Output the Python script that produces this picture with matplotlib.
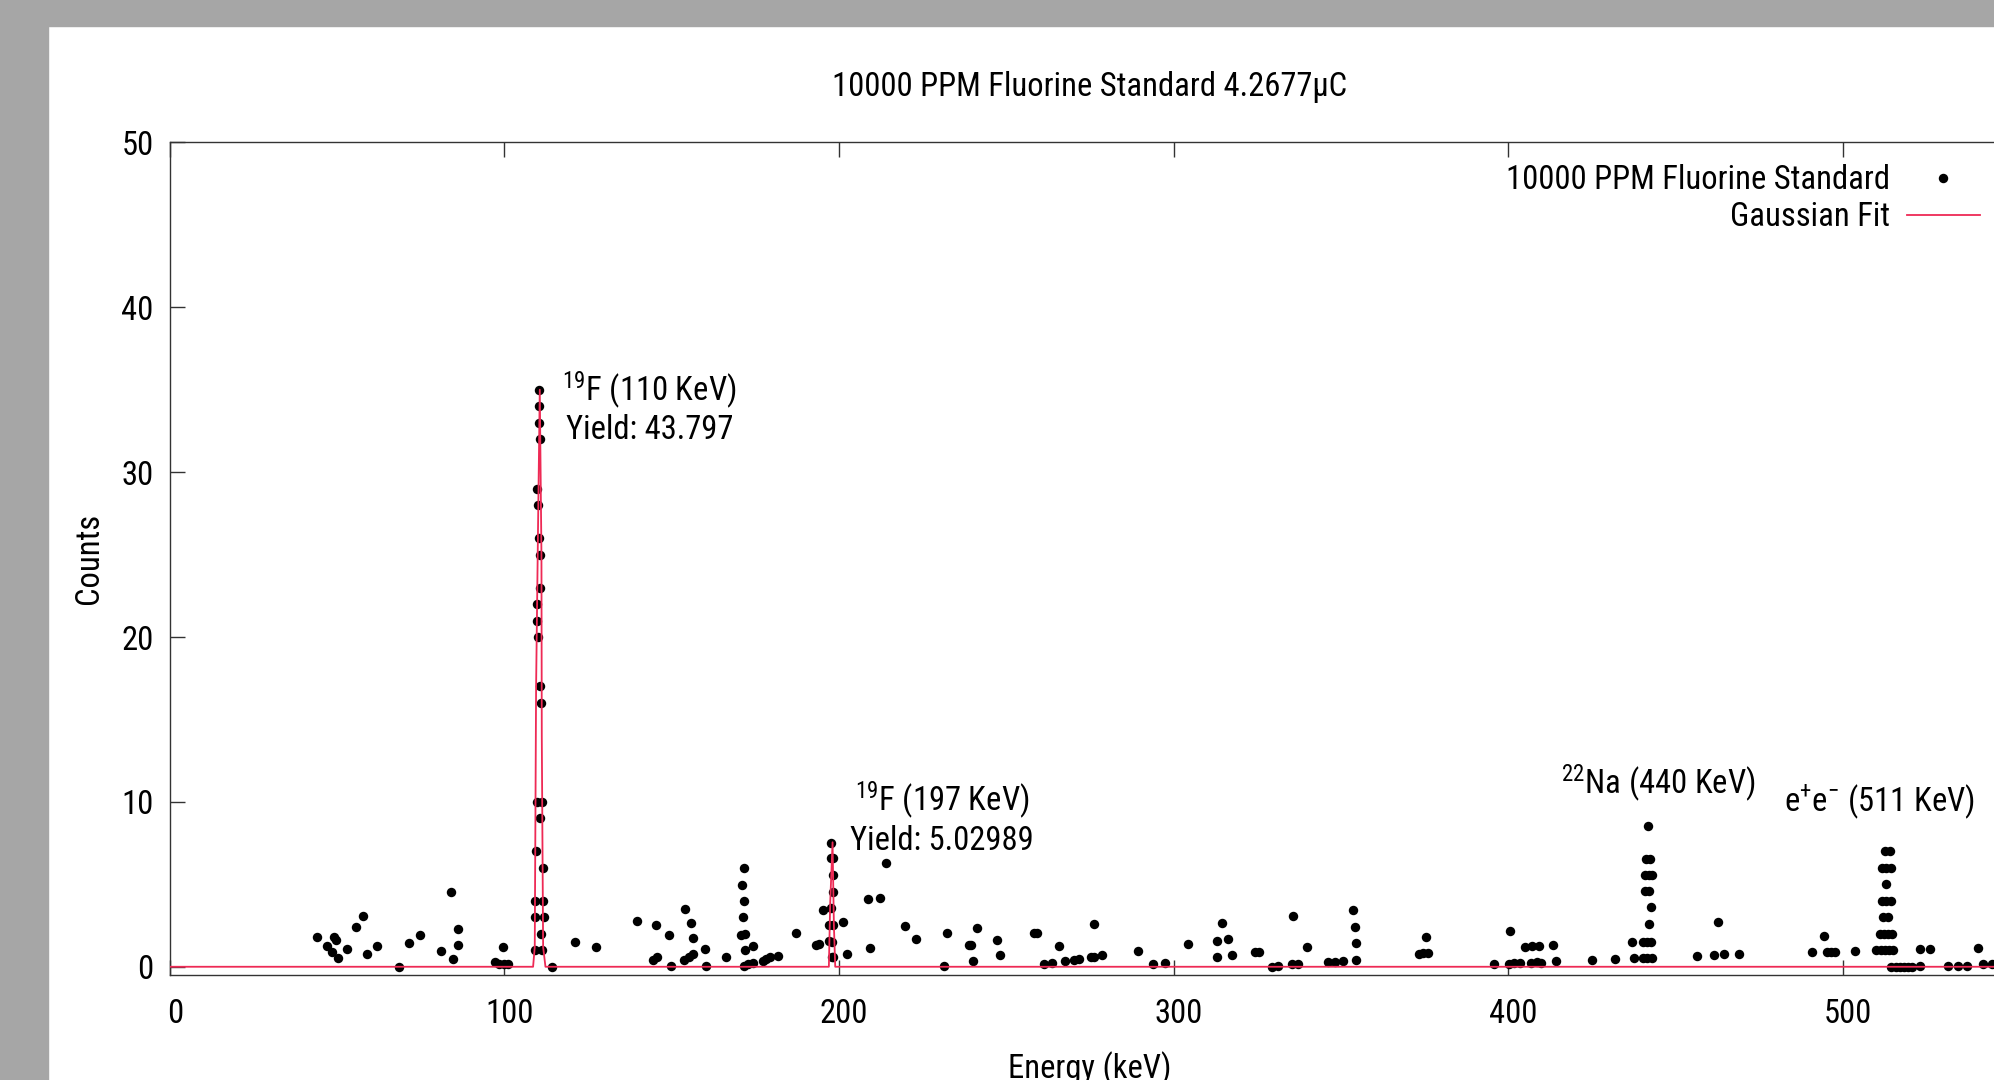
import matplotlib
matplotlib.use('Agg')
import matplotlib.pyplot as plt
from matplotlib import font_manager
from matplotlib.patches import Rectangle
from matplotlib.transforms import ScaledTranslation

# Spectrum points (energy in keV, counts)
energia = [43.9, 46.9, 48.4, 49.0, 49.7, 50.4, 52.9, 55.7, 57.9, 59.1, 61.9, 68.4, 71.6, 74.9,
           81.0, 84.1, 84.8, 86.1, 86.1, 97.3, 98.3, 99.8, 101.0, 99.5,
           # pico 110 keV
           110.5, 110.5, 110.5, 110.7, 109.8, 110.1, 110.5, 110.8, 110.8, 109.8, 109.8, 110.1,
           110.8, 111.1, 109.8, 111.3, 110.8, 109.6, 111.5, 109.1, 111.5, 109.1, 111.8, 111.1,
           109.1, 111.3, 114.3,
           121.1, 127.4, 139.7, 144.4, 145.7, 145.2, 149.2, 149.9, 154.0, 153.7, 155.2, 156.4,
           155.7, 156.4, 160.0, 160.2, 166.4,
           171.5, 170.9, 171.5, 171.2, 170.8, 171.8, 171.9, 174.4, 171.5, 172.7, 174.2,
           177.2, 178.2, 179.4, 181.8,
           187.1, 193.1, 194.1, 195.1,
           # pico 197 keV
           197.6, 197.6, 198.3, 198.3, 198.1, 197.6, 196.9, 198.1, 196.9, 197.9, 197.9, 198.3,
           201.3, 202.3, 208.6, 209.4, 212.3, 214.2, 219.8, 222.9, 231.3, 232.2, 239.0, 239.5,
           240.2, 241.3, 247.2, 248.2, 258.2, 259.2, 261.3, 263.7, 265.8, 267.5, 270.3, 271.8,
           275.2, 276.2, 276.2, 278.7, 289.4, 293.9, 297.4, 304.2, 313.1, 314.4, 316.4, 313.1,
           317.4, 324.4, 325.5, 329.5, 331.3,
           335.8, 335.3, 337.3, 339.8, 346.3, 348.3, 350.6, 353.6, 354.3, 354.6, 354.6, 373.3,
           374.7, 376.0, 375.4, 395.7, 400.5, 400.2, 401.7, 403.7, 404.9, 407.2, 409.2, 406.7,
           408.7, 409.7, 413.5, 414.4, 425.2, 431.8, 437.1, 437.6,
           # pico 440 keV
           441.8, 441.3, 442.3, 441.0, 442.0, 443.0, 441.0, 442.2, 442.6, 442.1, 440.4, 441.5,
           442.6, 440.3, 441.5, 443.1,
           456.6, 461.6, 464.6, 462.6, 469.1, 490.8, 494.3, 495.2, 496.5, 497.8, 503.8,
           # pico 511 keV
           512.5, 514.0, 511.7, 513.0, 514.3, 513.0, 511.7, 513.0, 514.3, 512.0, 513.5,
           511.0, 512.3, 513.6, 514.6, 510.0, 511.3, 512.6, 513.9, 515.0,
           514.5, 515.8, 517.0, 518.2, 519.4, 520.6,
           523.2, 526.2, 523.2, 531.4, 534.4, 537.2, 540.5, 541.9, 544.7]

contagens = [1.82, 1.25, 0.91, 1.80, 1.65, 0.55, 1.05, 2.42, 3.07, 0.75, 1.25, 0.00, 1.45, 1.92,
             0.97, 4.55, 0.46, 2.32, 1.31, 0.26, 0.16, 0.16, 0.14, 1.17,
             35, 34, 33, 32, 29, 28, 26, 25, 23, 22, 21, 20,
             17, 16, 10, 10, 9, 7, 6, 4, 4, 3, 3, 2,
             1, 1, 0,
             1.52, 1.17, 2.79, 0.40, 0.60, 2.53, 1.92, 0.06, 3.50, 0.44, 0.60, 0.75,
             2.63, 1.72, 1.05, 0.06, 0.60,
             5.96, 4.95, 3.98, 2.99, 1.92, 1.98, 1.01, 1.25, 0.06, 0.14, 0.20,
             0.36, 0.50, 0.57, 0.67,
             2.02, 1.31, 1.37, 3.44,
             7.52, 6.57, 6.57, 5.56, 4.55, 3.54, 2.53, 2.53, 1.56, 1.52, 0.61, 0.61,
             2.73, 0.75, 4.08, 1.11, 4.20, 6.27, 2.50, 1.68, 0.06, 2.02, 1.31, 1.31,
             0.34, 2.38, 1.62, 0.71, 2.02, 2.02, 0.14, 0.20, 1.25, 0.34, 0.44, 0.50,
             0.57, 0.61, 2.59, 0.71, 0.97, 0.14, 0.20, 1.37, 1.58, 2.63, 1.68, 0.61,
             0.71, 0.87, 0.87, 0.00, 0.06,
             3.07, 0.14, 0.14, 1.21, 0.30, 0.30, 0.36, 3.44, 2.43, 1.46, 0.44, 0.75,
             0.81, 0.81, 1.82, 0.14, 2.18, 0.14, 0.20, 0.20, 1.21, 1.25, 1.25, 0.24,
             0.28, 0.24, 1.35, 0.32, 0.40, 0.46, 1.52, 0.55,
             8.53, 6.53, 6.53, 5.56, 5.56, 5.56, 4.59, 4.59, 3.60, 2.59, 1.52, 1.52,
             1.52, 0.55, 0.55, 0.55,
             0.67, 0.71, 0.75, 2.73, 0.75, 0.87, 1.88, 0.87, 0.87, 0.87, 0.95,
             7, 7, 6, 6, 6, 5, 4, 4, 4, 3, 3,
             2, 2, 2, 2, 1, 1, 1, 1, 1,
             0, 0, 0, 0, 0, 0,
             1.05, 1.05, 0.06, 0.06, 0.06, 0.06, 1.11, 0.16, 0.16]

# Gaussian fit line, vertices
ajuste_x = [0, 108.6, 109.1, 109.5, 110.1, 110.6, 111.1, 111.2, 111.6, 112.3,
            197.0, 197.4, 198.1, 198.5, 198.9, 550]
ajuste_y = [0, 0, 1.2, 17, 27, 35, 25, 14, 1.2, 0,
            0, 3.9, 7.55, 2.5, 0, 0]

# Peak labels: (x, y of first line, y of second line, first line, second line)
rotulos = [(143.3, 34.33, 32.02, r'$^{19}$F (110 KeV)', 'Yield: 43.797'),
           (230.9, 9.44, 7.11, r'$^{19}$F (197 KeV)', 'Yield: 5.02989'),
           (444.8, 10.5, None, r'$^{22}$Na (440 KeV)', None),
           (511.0, 9.44, None, r'e$^{+}$e$^{-}$ (511 KeV)', None)]

x_ticks = [0, 100, 200, 300, 400, 500]
y_ticks = [0, 10, 20, 30, 40, 50]

#######################################################

# fonte estreita, parecida com a do gnuplot; usa a que estiver instalada
nomes = {f.name for f in font_manager.fontManager.ttflist}
if 'Liberation Sans Narrow' in nomes:
    fonte, tam = 'Liberation Sans Narrow', 24.5
elif 'Roboto Condensed' in nomes:
    fonte, tam = 'Roboto Condensed', 23.5
else:
    fonte, tam = 'Liberation Sans', 21

plt.rcParams['font.family'] = [fonte, 'DejaVu Sans']
plt.rcParams['mathtext.fontset'] = 'custom'
plt.rcParams['mathtext.rm'] = fonte
plt.rcParams['mathtext.it'] = fonte
plt.rcParams['mathtext.bf'] = fonte
plt.rcParams['mathtext.default'] = 'regular'

fig = plt.figure(figsize=(19.94, 10.8), dpi=100)
ax = fig.add_axes([0.08511, 0.09722, 0.92292, 0.77093])

ax.plot(energia, contagens, 'o', color='black', ms=6.8, mew=0,
        label='10000 PPM Fluorine Standard', zorder=2)
ax.plot(ajuste_x, ajuste_y, '-', color='#ee2a55', lw=1.3,
        label='Gaussian Fit', zorder=3)

ax.set_xlim(0, 550)
ax.set_ylim(-0.5, 50)
ax.set_xticks(x_ticks)
ax.set_yticks(y_ticks)
ax.xaxis.set_tick_params(direction='in', length=11, width=1, color='#333333',
                         labelsize=tam, top=True, pad=16.5)
ax.yaxis.set_tick_params(direction='in', length=11, width=1, color='#333333',
                         labelsize=tam, right=True, pad=11.5)
for sp in ax.spines.values():
    sp.set_color('#333333')
    sp.set_linewidth(1.0)

# no gnuplot os rótulos do eixo x ficam um pouco à direita do tick
desloc = ScaledTranslation(5 / 100, 0, fig.dpi_scale_trans)
for lab in ax.get_xticklabels():
    lab.set_transform(lab.get_transform() + desloc)

for x, y1, y2, t1, t2 in rotulos:
    ax.text(x, y1, t1, ha='center', va='baseline', fontsize=tam)
    if t2:
        ax.text(x, y2, t2, ha='center', va='baseline', fontsize=tam)

ax.set_title('10000 PPM Fluorine Standard 4.2677μC', fontsize=tam, y=1.046, va='baseline')
ax.set_xlabel('Energy (keV)', fontsize=tam)
ax.xaxis.set_label_coords(0.5, -0.1237)
ax.xaxis.label.set_va('baseline')
ax.set_ylabel('Counts', fontsize=tam)
ax.yaxis.set_label_coords(-0.0441, 0.5)
ax.yaxis.label.set_va('center')

ax.legend(loc='upper right', bbox_to_anchor=(0.9837, 0.974), markerfirst=False,
          frameon=False, fontsize=tam, handlelength=2.25, handletextpad=0.5,
          labelspacing=0.16, borderpad=0, borderaxespad=0, numpoints=1)

# moldura cinza da captura de tela
fig.patches.append(Rectangle((0, 0), 48 / 1994, 1, transform=fig.transFigure,
                             color='#a6a6a6', zorder=5))
fig.patches.append(Rectangle((0, 1 - 26 / 1080), 1, 26 / 1080, transform=fig.transFigure,
                             color='#a6a6a6', zorder=5))

plt.savefig('out.png', dpi=100)
